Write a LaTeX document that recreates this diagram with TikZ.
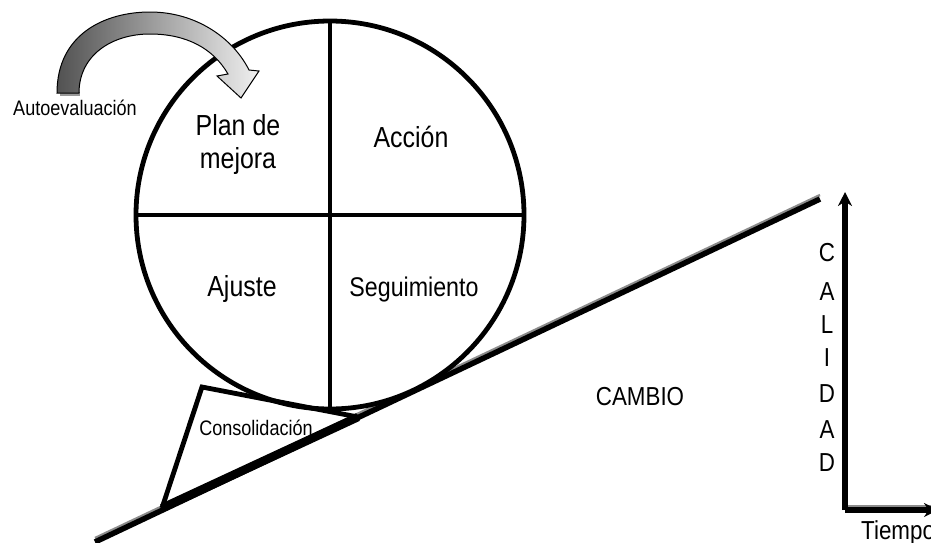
\documentclass[tikz,border=0pt]{standalone}
\usepackage{fontspec}
\setmainfont[FakeStretch=0.86]{Liberation Sans}
\usetikzlibrary{arrows.meta}
\begin{document}
\begin{tikzpicture}[x=1pt,y=-1pt,
  thickline/.style={line width=4.8pt},
  shadowline/.style={line width=2.4pt,draw=black!45},
  lbl/.style={inner sep=0pt,anchor=base},
  big/.style={font=\fontsize{29}{33}\selectfont},
  mid/.style={font=\fontsize{26}{30}\selectfont},
  small/.style={font=\fontsize{21}{25}\selectfont},
  axis/.style={line width=6pt,-{Stealth[length=14pt,width=14pt]}}]
\useasboundingbox (0,0) rectangle (931,542);
% coordinates
\coordinate (C) at (330,215);
\coordinate (top) at (330,21);
\coordinate (bot) at (330,409);
\coordinate (left) at (136,215);
\coordinate (right) at (524,215);
\coordinate (inclA) at (95,542);
\coordinate (inclB) at (820,199);
\coordinate (t1) at (202,387);
\coordinate (t2) at (162,508);
\coordinate (t3) at (358,417);
\coordinate (origin) at (845,510);
\coordinate (ytop) at (845,192);
\coordinate (xend) at (938,510);
% shadows
\draw[shadowline] ([yshift=4pt]left) -- ([yshift=4pt]right);
\draw[shadowline] ([yshift=4pt]inclA) -- ([yshift=4pt]inclB);
\draw[shadowline] ([yshift=4pt]origin) -- ([yshift=4pt]xend);
\draw[shadowline,line width=1.4pt] ([xshift=3.5pt]top) -- ([xshift=3.5pt]bot);
% incline
\draw[line width=5.5pt] (inclA) -- (inclB);
% circle
\draw[thickline,fill=white] (C) circle[radius=194];
\draw[thickline] (left) -- (right);
\draw[thickline] (top) -- (bot);
% triangle
\draw[thickline,line join=miter] (t2) -- (t1) -- (t3);
\draw[line width=8.5pt] (t2) -- (t3);
% curved arrow
\fill[black!40] (60,96) -- (80,96) -- (80,92) -- (60,92) -- cycle;
\draw[line width=1pt,left color=black!68,right color=black!6]
  (57,93) .. controls (57,34) and (105,12) .. (150,12)
  .. controls (196,12) and (233,38) .. (249,70)
  -- (259,71) -- (241,98) -- (217,76) -- (228,74)
  .. controls (213,48) and (186,34) .. (150,34)
  .. controls (112,34) and (79,55) .. (79,93) -- cycle;
% texts
\node[big,align=center,inner sep=0pt] (plan) at (238,144) {Plan de\\mejora};
\node[big,lbl] (accion) at (411,147) {Acción};
\node[big,lbl] (ajuste) at (242,296) {Ajuste};
\node[big,lbl,font=\fontsize{27}{30}\selectfont] (seg) at (414,296) {Seguimiento};
\node[mid,lbl] (cambio) at (640,405) {CAMBIO};
\node[small,lbl] (auto) at (75,115) {Autoevaluación};
\node[small,lbl] (consol) at (256,435) {Consolidación};
\node[mid,lbl] (c1) at (827,261) {C};
\node[mid,lbl] (c2) at (827,300) {A};
\node[mid,lbl] (c3) at (827,333) {L};
\node[mid,lbl] (c4) at (827,366) {I};
\node[mid,lbl] (c5) at (827,402) {D};
\node[mid,lbl] (c6) at (827,438) {A};
\node[mid,lbl] (c7) at (827,471) {D};
\node[mid,inner sep=0pt,anchor=base west] (tiempo) at (861,539) {Tiempo};
% axes
\draw[axis] (origin) -- (ytop);
\draw[axis] (origin) -- (xend);
\end{tikzpicture}
\end{document}
